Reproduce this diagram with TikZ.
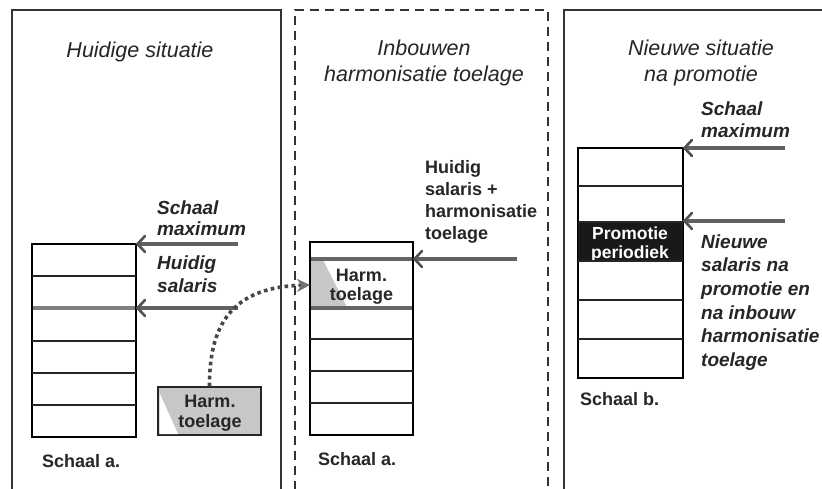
\documentclass[tikz,border=0pt]{standalone}
\usepackage{fontspec}
\setmainfont{Liberation Sans}
\usetikzlibrary{arrows.meta}
\begin{document}
\begin{tikzpicture}[x=1pt,y=-1pt,
  panel/.style={draw=black!80, line width=1.8pt},
  dpanel/.style={draw=black!80, line width=1.8pt, dash pattern=on 9pt off 6pt},
  ladder/.style={draw=black, line width=1.4pt, inner sep=0pt, outer sep=0pt},
  rung/.style={draw=black!85, line width=1.1pt},
  salline/.style={draw=black!50, line width=3.4pt},
  shaft/.style={draw=black!62, line width=3.2pt},
  barb/.style={draw=black!68, line width=2.6pt, line cap=round, line join=miter},
  dots/.style={draw=black!72, line width=3.6pt, dash pattern=on 3.6pt off 3.4pt, -{Stealth[length=13pt,width=13pt,color=black!55,fill=black!55]}},
  title/.style={font=\fontsize{21.5}{26}\selectfont\itshape, align=center, anchor=base, text=black!85, inner sep=0pt},
  lab/.style={font=\fontsize{19}{23.5}\selectfont\bfseries\itshape, align=left, anchor=base west, text=black!85, inner sep=0pt},
  blab/.style={font=\fontsize{18}{22}\selectfont\bfseries, align=left, anchor=base west, text=black!85, inner sep=0pt},
  ctext/.style={font=\fontsize{18}{20}\selectfont\bfseries, align=center, anchor=base, text=black!85, inner sep=0pt},
]
\useasboundingbox (0,0) rectangle (822,488);
\clip (0,0) rectangle (822,488);
\fill[white] (0,0) rectangle (822,488);

% ---------- panels ----------
\draw[panel] (12,490) -- (12,10) -- (281,10) -- (281,490);
\draw[dpanel] (295,490) -- (295,10) -- (548,10) -- (548,490);
\draw[panel] (564,490) -- (564,10) -- (830,10);

% ---------- titles (anchor base = last line) ----------
\node[title] (t1) at (140,57) {Huidige situatie};
\node[title] (t2) at (424,81) {Inbouwen\\harmonisatie toelage};
\node[title] (t3) at (701,81) {Nieuwe situatie\\na promotie};

% ---------- panel 1 ----------
\node[ladder, minimum width=104pt, minimum height=193pt] (L1) at (84,340.5) {};
\foreach \yy in {276,341,373,405}
  \draw[rung] (32,\yy) -- (136,\yy);
\draw[salline] (32.7,308) -- (135.3,308);
\coordinate (s1a) at (238,244);
\coordinate (s1b) at (238,308);
\coordinate (e1a) at (L1.east |- s1a);
\coordinate (e1b) at (L1.east |- s1b);
\draw[shaft] (s1a) -- ([xshift=2pt]e1a);
\draw[barb] ([xshift=9pt,yshift=8pt]e1a) -- ([xshift=1.5pt]e1a) -- ([xshift=9pt,yshift=-8pt]e1a);
\draw[shaft] (s1b) -- ([xshift=2pt]e1b);
\draw[barb] ([xshift=9pt,yshift=8pt]e1b) -- ([xshift=1.5pt]e1b) -- ([xshift=9pt,yshift=-8pt]e1b);
\node[lab, font=\fontsize{19}{21.5}\selectfont\bfseries\itshape] (m1) at (157,235.5) {Schaal\\maximum};
\node[lab, font=\fontsize{19}{23}\selectfont\bfseries\itshape] (h1) at (157,292) {Huidig\\salaris};

\node[draw=black!85, line width=1.4pt, fill=black!22, minimum width=103pt, minimum height=48pt, inner sep=0pt] (hb) at (209.5,411) {};
\fill[white] (159.5,393) -- (178,434) -- (159.5,434) -- cycle;
\node[ctext] (hbt) at (210,427) {Harm.\\toelage};
\draw[draw=black!85, line width=1.4pt] (hb.south west) rectangle (hb.north east);
\node[blab] (sa1) at (42,467) {Schaal a.};

% ---------- panel 2 ----------
\node[ladder, minimum width=103pt, minimum height=193pt] (L2) at (361.5,338.5) {};
\fill[black!22] (311,260) -- (323,260) -- (347,307) -- (311,307) -- cycle;
\foreach \yy in {339,371,403}
  \draw[rung] (310,\yy) -- (413,\yy);
\draw[draw=black!60, line width=3.6pt] (310.7,259) -- (412.3,259);
\draw[draw=black!60, line width=3.6pt] (310.7,308) -- (412.3,308);
\node[ctext, font=\fontsize{18}{19}\selectfont\bfseries] (hb2) at (361.5,300) {Harm.\\toelage};
\coordinate (s2) at (517,259);
\coordinate (e2) at (L2.east |- s2);
\draw[shaft] (s2) -- ([xshift=2pt]e2);
\draw[barb] ([xshift=9pt,yshift=8pt]e2) -- ([xshift=1.5pt]e2) -- ([xshift=9pt,yshift=-8pt]e2);
\node[blab] (h2) at (425,239) {Huidig\\salaris +\\harmonisatie\\toelage};
\node[blab] (sa2) at (318,465) {Schaal a.};

% dotted connector
\coordinate (d2) at (L2.west |- 0,285);
\draw[dots] (hb.north) .. controls (209,318) and (238,287) .. (d2);

% ---------- panel 3 ----------
\node[ladder, minimum width=105pt, minimum height=230pt] (L3) at (630.5,263) {};
\fill[black!90] (578,222) rectangle (683,261);
\begin{scope}
  \clip (578,222) rectangle (683,260);
  \node[ctext, text=white, font=\fontsize{17.5}{19}\selectfont\bfseries] (pp) at (630,258) {Promotie\\periodiek};
\end{scope}
\foreach \yy in {186,222,261,300,339}
  \draw[rung] (578,\yy) -- (683,\yy);
\coordinate (s3a) at (785,148);
\coordinate (s3b) at (785,221);
\coordinate (e3a) at (L3.east |- s3a);
\coordinate (e3b) at (L3.east |- s3b);
\draw[shaft] (s3a) -- ([xshift=2pt]e3a);
\draw[barb] ([xshift=9pt,yshift=8pt]e3a) -- ([xshift=1.5pt]e3a) -- ([xshift=9pt,yshift=-8pt]e3a);
\draw[shaft] (s3b) -- ([xshift=2pt]e3b);
\draw[barb] ([xshift=9pt,yshift=8pt]e3b) -- ([xshift=1.5pt]e3b) -- ([xshift=9pt,yshift=-8pt]e3b);
\node[lab, font=\fontsize{19}{22}\selectfont\bfseries\itshape] (m3) at (701,137) {Schaal\\maximum};
\node[lab, font=\fontsize{19}{23.7}\selectfont\bfseries\itshape] (n3) at (701,366.5) {Nieuwe\\salaris na\\promotie en\\na inbouw\\harmonisatie\\toelage};
\node[blab] (sb3) at (580,405) {Schaal b.};
\end{tikzpicture}
\end{document}
